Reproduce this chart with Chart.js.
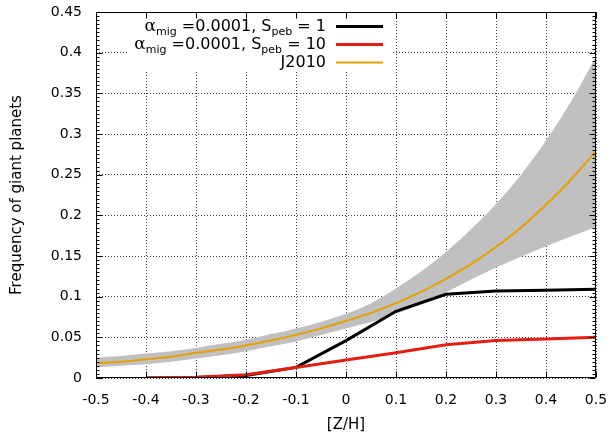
<!DOCTYPE html>
<html><head><meta charset="utf-8">
<script src="https://cdn.jsdelivr.net/npm/chart.js@4"></script>
<style>html,body{margin:0;padding:0;background:#fff;}#wrap{width:612px;height:437px;}</style>
</head><body><div id="wrap"><canvas id="c" width="612" height="437"></canvas></div>
<script>
// ---- data ----
const zGrid = [-0.5,-0.45,-0.4,-0.35,-0.3,-0.25,-0.2,-0.15,-0.1,-0.05,0,0.05,0.1,0.15,0.2,0.25,0.3,0.35,0.4,0.45,0.5];
const j2010 = [0.018,0.020,0.023,0.026,0.031,0.035,0.040,0.046,0.053,0.061,0.070,0.080,0.092,0.106,0.122,0.140,0.161,0.185,0.213,0.244,0.279];
const j2010Upper = [0.025,0.027,0.030,0.033,0.037,0.042,0.047,0.054,0.061,0.069,0.079,0.092,0.110,0.131,0.155,0.183,0.214,0.250,0.292,0.340,0.395];
const j2010Lower = [0.013,0.015,0.017,0.020,0.024,0.028,0.033,0.039,0.045,0.053,0.061,0.069,0.079,0.091,0.105,0.121,0.136,0.149,0.162,0.174,0.186];
const zModel = [-0.4,-0.3,-0.2,-0.1,0,0.1,0.2,0.3,0.4,0.5];
const sPeb1 = [0.000,0.0005,0.003,0.013,0.046,0.082,0.103,0.107,0.108,0.109];
const sPeb10 = [0.000,0.001,0.004,0.013,0.022,0.031,0.041,0.046,0.048,0.050];
const xTickLabels = ['-0.5','-0.4','-0.3','-0.2','-0.1','0','0.1','0.2','0.3','0.4','0.5'];
const yTickLabels = ['0','0.05','0.1','0.15','0.2','0.25','0.3','0.35','0.4','0.45'];
const legendRows = [
  {parts:[['α','a'],['mig','s'],[' =0.0001, S','n'],['peb','s'],[' = 1','n']], color:'#000000', width:3},
  {parts:[['α','a'],['mig','s'],[' =0.0001, S','n'],['peb','s'],[' = 10','n']], color:'#e41e12', width:3},
  {parts:[['J2010','n']], color:'#e6a000', width:2}
];
// ---------------------------------------

const pts = (xs, ys) => xs.map((x, i) => ({x, y: ys[i]}));
const FONT = "'DejaVu Sans', sans-serif";

const framePlugin = {
  id: 'frame',
  beforeDatasetsDraw(chart) {
    // opaque key box hides the grid behind the legend
    const ctx = chart.ctx;
    ctx.save();
    ctx.fillStyle = '#ffffff';
    ctx.fillRect(128, 18, 263, 54);
    ctx.restore();
  },
  afterDraw(chart) {
    const ctx = chart.ctx;
    const a = chart.chartArea;
    const xs = chart.scales.x, ys = chart.scales.y;
    ctx.save();
    ctx.setLineDash([]);
    ctx.globalAlpha = 1;
    ctx.strokeStyle = '#000000';
    ctx.lineWidth = 1;
    const L = Math.round(a.left) + 0.5, R = Math.round(a.right) - 0.5;
    const T = Math.round(a.top) + 0.5, B = Math.round(a.bottom) - 0.5;
    ctx.beginPath();
    for (let k = 0; k < xTickLabels.length; k++) {
      const px = Math.round(xs.getPixelForValue(-0.5 + k * 0.1)) + 0.5;
      ctx.moveTo(px, B); ctx.lineTo(px, B - 6);
      ctx.moveTo(px, T); ctx.lineTo(px, T + 6);
    }
    for (let k = 0; k <= 90; k++) {
      const py = Math.round(ys.getPixelForValue(k * 0.005)) + 0.5;
      const len = (k % 10 === 0) ? 6 : 3;
      ctx.moveTo(L, py); ctx.lineTo(L + len, py);
      ctx.moveTo(R, py); ctx.lineTo(R - len, py);
    }
    ctx.moveTo(L, T); ctx.lineTo(R, T); ctx.lineTo(R, B); ctx.lineTo(L, B); ctx.closePath();
    ctx.stroke();

    // legend
    const textRight = 326, lineX0 = 336, lineX1 = 383;
    const rowY = [26, 44, 62];
    const fontFor = k => k === 'a' ? "17px 'DejaVu Serif', serif" : (k === 's' ? `11px ${FONT}` : `16px ${FONT}`);
    legendRows.forEach((row, r) => {
      let total = 0;
      row.parts.forEach(([t, k]) => { ctx.font = fontFor(k); total += ctx.measureText(t).width; });
      let cx = textRight - total;
      ctx.fillStyle = '#000';
      ctx.textBaseline = 'alphabetic';
      ctx.textAlign = 'left';
      row.parts.forEach(([t, k]) => {
        ctx.font = fontFor(k);
        const by = rowY[r] + 5 + (k === 's' ? 4 : 0);
        ctx.fillText(t, cx, by);
        cx += ctx.measureText(t).width;
      });
      ctx.strokeStyle = row.color;
      ctx.lineWidth = row.width;
      ctx.beginPath();
      ctx.moveTo(lineX0, rowY[r] + 0.5); ctx.lineTo(lineX1, rowY[r] + 0.5);
      ctx.stroke();
    });
    ctx.restore();
  }
};

const bandOpts = {showLine: true, borderColor: 'rgba(0,0,0,0)', borderWidth: 0, pointRadius: 0, cubicInterpolationMode: 'monotone'};

new Chart(document.getElementById('c'), {
  type: 'scatter',
  data: {
    datasets: [
      {label: 'J2010', data: pts(zGrid, j2010), showLine: true, borderColor: '#e6a000', borderWidth: 2, pointRadius: 0, fill: false, cubicInterpolationMode: 'monotone'},
      {label: 'Speb10', data: pts(zModel, sPeb10), showLine: true, borderColor: '#e41e12', borderWidth: 3, pointRadius: 0, fill: false},
      {label: 'Speb1', data: pts(zModel, sPeb1), showLine: true, borderColor: '#000000', borderWidth: 3, pointRadius: 0, fill: false},
      Object.assign({label: 'upper', data: pts(zGrid, j2010Upper), backgroundColor: '#c0c0c0', fill: '+1'}, bandOpts),
      Object.assign({label: 'lower', data: pts(zGrid, j2010Lower), fill: false}, bandOpts)
    ]
  },
  options: {
    responsive: false,
    animation: false,
    devicePixelRatio: 1,
    layout: {padding: {left: 0, right: 16, top: 12, bottom: 0}},
    plugins: {legend: {display: false}, tooltip: {enabled: false}},
    scales: {
      x: {
        type: 'linear', min: -0.5, max: 0.5,
        afterFit: s => { s.height = 59; s.paddingLeft = 0; s.paddingRight = 0; },
        ticks: {stepSize: 0.1, callback: (v, i) => xTickLabels[i], color: '#000', font: {family: FONT, size: 14}, padding: 14, maxRotation: 0, autoSkip: false},
        grid: {color: 'rgba(0,0,0,0.75)', lineWidth: 1, drawTicks: false},
        border: {display: false, dash: [1, 2]},
        title: {display: true, text: '[Z/H]', color: '#000', font: {family: FONT, size: 15}, padding: {top: 0, bottom: 3}}
      },
      y: {
        type: 'linear', min: 0, max: 0.45,
        afterFit: s => { s.width = 96; s.paddingTop = 0; s.paddingBottom = 0; },
        ticks: {stepSize: 0.05, callback: (v, i) => yTickLabels[i], color: '#000', font: {family: FONT, size: 14}, padding: 14, autoSkip: false},
        grid: {color: 'rgba(0,0,0,0.75)', lineWidth: 1, drawTicks: false},
        border: {display: false, dash: [1, 2]},
        title: {display: true, text: 'Frequency of giant planets', color: '#000', font: {family: FONT, size: 15}, padding: {top: 8, bottom: 0}}
      }
    }
  },
  plugins: [framePlugin]
});
</script>
</body></html>
